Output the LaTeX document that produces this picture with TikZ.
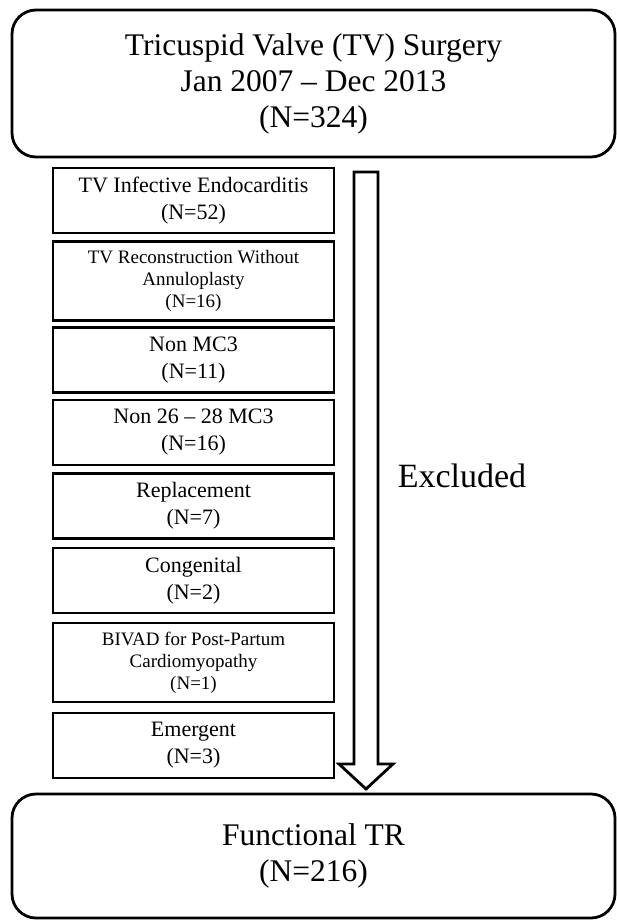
\documentclass[tikz,border=0pt]{standalone}
\usepackage{fontspec}
\setmainfont{Liberation Serif}
\usetikzlibrary{calc}

\begin{document}
\begin{tikzpicture}[x=0.5pt, y=-0.5pt,
  big/.style={draw, line width=1.4pt, rounded corners=12pt, minimum width=301.5pt, align=center, font=\fontsize{15.75}{18}\selectfont},
  ex/.style={draw, line width=1.4pt, minimum width=140.5pt, minimum height=32.5pt, align=center, font=\fontsize{11}{13.5}\selectfont},
  exs/.style={ex, minimum height=39.5pt, font=\fontsize{9.5}{11}\selectfont}]
\useasboundingbox (0,0) rectangle (616,920);

\node (S) at (313.5,83.5) [big, minimum height=73.5pt] {Tricuspid Valve (TV) Surgery\\Jan 2007 -- Dec 2013\\(N=324)};
\node (F) at (313.5,856) [big, minimum height=62pt] {Functional TR\\(N=216)};

\node (IE) at (193.5,200.5) [ex] {TV Infective Endocarditis\\(N=52)};
\node (RA) at (193.5,281) [exs] {TV Reconstruction Without\\Annuloplasty\\(N=16)};
\node (MC) at (193.5,360) [ex] {Non MC3\\(N=11)};
\node (NM) at (193.5,432.5) [ex] {Non 26 -- 28 MC3\\(N=16)};
\node (R) at (193.5,506) [ex] {Replacement\\(N=7)};
\node (C) at (193.5,580.5) [ex] {Congenital\\(N=2)};
\node (B) at (193.5,662.5) [exs] {BIVAD for Post-Partum\\Cardiomyopathy\\(N=1)};
\node (E) at (193.5,745.5) [ex] {Emergent\\(N=3)};

\node (Ex) at (462,476) [font=\fontsize{17}{20}\selectfont] {Excluded};

\coordinate (A) at (366,172);
\coordinate (T) at (366,789);
\draw [line width=1.4pt, line join=miter] ($(A)+(-12,0)$) -- ($(T)+(-12,-25)$) -- ($(T)+(-27,-25)$) -- (T) -- ($(T)+(27,-25)$) -- ($(T)+(12,-25)$) -- ($(A)+(12,0)$) -- cycle;
\end{tikzpicture}
\end{document}
